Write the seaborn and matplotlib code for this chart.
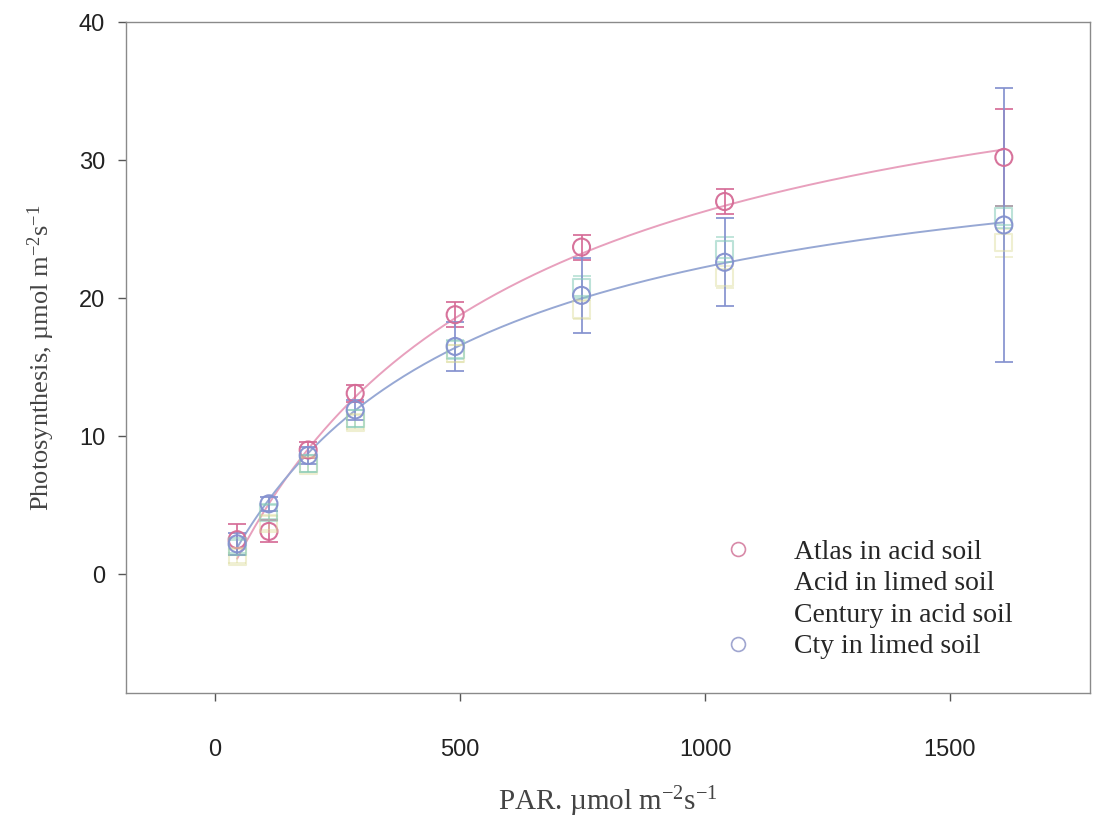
import numpy as np
import pandas as pd
import matplotlib
matplotlib.use("Agg")
import matplotlib.pyplot as plt
from matplotlib.lines import Line2D
import seaborn as sns

# Light levels (PAR, µmol m-2 s-1)
par = [45, 110, 190, 286, 490, 748, 1040, 1610]

# Net photosynthesis means and standard errors for each cultivar/soil
atlas_acid = [2.5, 3.1, 9.0, 13.1, 18.8, 23.7, 27.0, 30.2]
atlas_acid_err = [1.1, 0.8, 0.6, 0.6, 0.9, 0.9, 0.9, 3.5]
acid_limed = [1.3, 3.7, 7.9, 11.0, 16.0, 19.2, 21.5, 24.0]
acid_limed_err = [0.5, 0.5, 0.5, 0.5, 0.6, 0.7, 0.8, 1.0]
century_acid = [2.0, 4.5, 8.0, 11.3, 16.3, 20.8, 23.5, 25.9]
century_acid_err = [0.5, 0.5, 0.6, 0.6, 0.7, 0.8, 0.9, 0.8]
cty_limed = [2.2, 5.1, 8.6, 11.9, 16.5, 20.2, 22.6, 25.3]
cty_limed_err = [0.8, 0.5, 0.6, 0.7, 1.8, 2.7, 3.2, 9.9]

series_names = ["Atlas in acid soil", "Acid in limed soil",
                "Century in acid soil", "Cty in limed soil"]
x_ticks = [0, 500, 1000, 1500]
y_ticks = [0, 10, 20, 30, 40]

sns.set_theme(style="white")
plt.rcParams["mathtext.fontset"] = "custom"
plt.rcParams["mathtext.rm"] = "Liberation Serif"
plt.rcParams["mathtext.it"] = "Liberation Serif:italic"

fig = plt.figure(figsize=(10.95, 8.19), dpi=100)
ax = fig.add_axes([0.115, 0.154, 0.8805, 0.819])


def fit_light_curve(x, y):
    """Least-squares rectangular hyperbola P = Pmax*I/(K+I) + c."""
    x = np.asarray(x, float)
    y = np.asarray(y, float)
    best = None
    for k in np.linspace(50, 4000, 800):
        A = np.column_stack([x / (k + x), np.ones_like(x)])
        coef, *_ = np.linalg.lstsq(A, y, rcond=None)
        sse = np.sum((A @ coef - y) ** 2)
        if best is None or sse < best[0]:
            best = (sse, k, coef)
    _, k, (pmax, c) = best
    return lambda i: pmax * i / (k + i) + c


# values, errors, colour, marker, alpha, fitted-curve colour
styles = [
    (atlas_acid, atlas_acid_err, "#d56b96", "o", 0.95, "#e8a0bd"),
    (acid_limed, acid_limed_err, "#dcdc9a", "s", 0.45, None),
    (century_acid, century_acid_err, "#86cbb8", "s", 0.55, None),
    (cty_limed, cty_limed_err, "#8491cf", "o", 0.95, "#97a8d4"),
]

for name, (vals, errs, col, mk, alpha, curve_col) in zip(series_names, styles):
    df = pd.DataFrame({"PAR": par, "P": vals})
    ax.errorbar(par, vals, yerr=errs, fmt="none", ecolor=col, alpha=alpha,
                elinewidth=1.3, capsize=6.5, capthick=1.3, zorder=3)
    sns.scatterplot(data=df, x="PAR", y="P", ax=ax, marker=mk, s=150,
                    facecolor="none", edgecolor=col, linewidth=1.5,
                    alpha=alpha, legend=False, zorder=4)
    if curve_col is not None:
        f = fit_light_curve(par, vals)
        xs = np.linspace(par[0], par[-1], 300)
        sns.lineplot(x=xs, y=f(xs), ax=ax, color=curve_col, lw=1.4,
                     zorder=2, legend=False)

ax.set_xlim(-182, 1786)
ax.set_ylim(-8.6, 40)
ax.set_xticks(x_ticks)
ax.set_yticks(y_ticks)
ax.tick_params(axis="both", which="major", direction="out", length=6,
               width=1.0, color="#555555", labelsize=17, labelcolor="#222222",
               bottom=True, left=True, top=False, right=False)
ax.tick_params(axis="x", pad=27)
ax.tick_params(axis="y", pad=9)
for lab in ax.get_xticklabels() + ax.get_yticklabels():
    lab.set_fontfamily("Liberation Sans")

for side in ["left", "bottom", "top", "right"]:
    ax.spines[side].set_color("#8a8a8a")
    ax.spines[side].set_linewidth(1.0)

ax.set_xlabel(r"PAR. µmol m$^{-2}$s$^{-1}$", family="Liberation Serif",
              fontsize=21, color="#444444", labelpad=17)
ax.set_ylabel(r"Photosynthesis, µmol m$^{-2}$s$^{-1}$",
              family="Liberation Serif", fontsize=19, color="#444444",
              labelpad=16)

handles = [
    Line2D([], [], ls="none", marker="o", ms=10, mfc="none",
           mec="#d88aa8", mew=1.2),
    Line2D([], [], ls="none", marker="o", ms=10, mfc="none",
           mec="white", mew=1.2),
    Line2D([], [], ls="none", marker="o", ms=10, mfc="none",
           mec="white", mew=1.2),
    Line2D([], [], ls="none", marker="o", ms=10, mfc="none",
           mec="#a0a6d0", mew=1.2),
]
ax.legend(handles, series_names, loc="lower left",
          bbox_to_anchor=(0.606, 0.05), frameon=False,
          prop={"family": "Liberation Serif", "size": 20},
          handlelength=2.0, handletextpad=1.0, labelspacing=0.22,
          borderpad=0, borderaxespad=0)

fig.savefig("out.png", dpi=100)
